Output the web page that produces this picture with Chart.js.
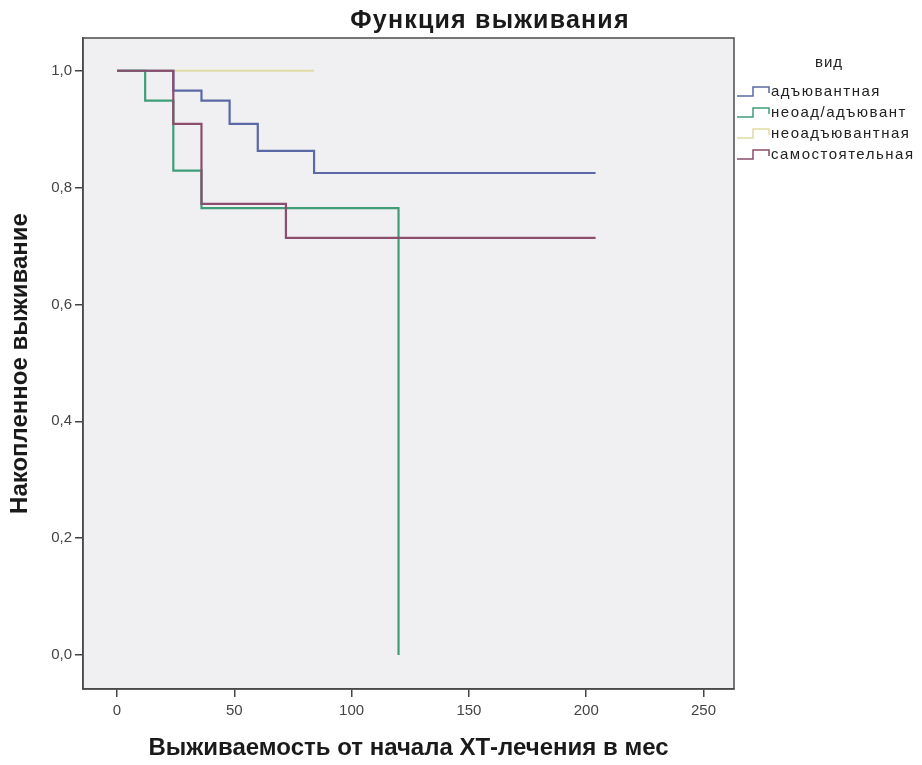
<!DOCTYPE html>
<html>
<head>
<meta charset="utf-8">
<script src="https://cdn.jsdelivr.net/npm/chart.js@4.4.1/dist/chart.umd.min.js"></script>
<style>
  body { margin: 0; background: #fff; }
  canvas { display: block; }
</style>
</head>
<body>
<canvas id="kmChart" width="922" height="765"></canvas>
<script>
// Данные кривых выживания (время в мес, накопленное выживание)
const groupNames = ["адъювантная", "неоад/адъювант", "неоадъювантная", "самостоятельная"];
const adjTime = [0, 24, 36, 48, 60, 84, 204];
const adjSurv = [1.0, 0.966, 0.949, 0.909, 0.863, 0.825, 0.825];
const neoAdjTime = [0, 12, 24, 36, 120];
const neoAdjSurv = [1.0, 0.949, 0.829, 0.765, 0.0];
const neoTime = [0, 84];
const neoSurv = [1.0, 1.0];
const selfTime = [0, 24, 36, 72, 204];
const selfSurv = [1.0, 0.909, 0.772, 0.714, 0.714];
const xTicks = [0, 50, 100, 150, 200, 250];
const yTicks = [0, 0.2, 0.4, 0.6, 0.8, 1.0];

const colors = ["#5a68a6", "#3f9d78", "#e0dba4", "#8a4d6c"];
const FONT = "'Liberation Sans', Arial, sans-serif";

const toPoints = (t, s) => t.map((v, i) => ({ x: v, y: s[i] }));

// фон области построения, рамка, заголовок и легенда
const plotBg = {
  id: "plotBg",
  beforeDraw(chart) {
    const { ctx, chartArea: a } = chart;
    ctx.save();
    ctx.fillStyle = "#f0f0f2";
    ctx.fillRect(a.left, a.top, a.right - a.left, a.bottom - a.top);
    ctx.restore();
  },
  afterDraw(chart) {
    const { ctx, chartArea: a } = chart;
    ctx.save();
    ctx.strokeStyle = "#4a4a4a";
    ctx.lineWidth = 1.5;
    ctx.strokeRect(a.left, a.top, a.right - a.left, a.bottom - a.top);

    // заголовок
    ctx.fillStyle = "#1a1a1a";
    ctx.font = "bold 25px " + FONT;
    ctx.letterSpacing = "1.2px";
    ctx.textAlign = "center";
    ctx.textBaseline = "alphabetic";
    ctx.fillText("Функция выживания", 490, 28);

    // легенда
    ctx.fillStyle = "#222";
    ctx.letterSpacing = "1px";
    ctx.font = "15px " + FONT;
    ctx.fillText("вид", 829, 67);
    ctx.textAlign = "left";
    ctx.textBaseline = "middle";
    ctx.letterSpacing = "1.5px";
    ctx.font = "15px " + FONT;
    const legendY = [92, 113, 134, 155];
    groupNames.forEach((name, i) => {
      const y = legendY[i];
      ctx.strokeStyle = colors[i];
      ctx.lineWidth = 1.5;
      ctx.beginPath();
      ctx.moveTo(737, y + 4);
      ctx.lineTo(753, y + 4);
      ctx.lineTo(753, y - 5);
      ctx.lineTo(769, y - 5);
      ctx.lineTo(769, y + 1);
      ctx.stroke();
      ctx.fillStyle = "#222";
      ctx.fillText(name, 771, y);
    });
    ctx.restore();
  }
};

new Chart(document.getElementById("kmChart"), {
  type: "line",
  data: {
    datasets: [
      { label: groupNames[0], data: toPoints(adjTime, adjSurv), borderColor: colors[0], order: 2 },
      { label: groupNames[1], data: toPoints(neoAdjTime, neoAdjSurv), borderColor: colors[1], order: 1 },
      { label: groupNames[2], data: toPoints(neoTime, neoSurv), borderColor: colors[2], order: 3 },
      { label: groupNames[3], data: toPoints(selfTime, selfSurv), borderColor: colors[3], order: 0 },
    ].map(d => Object.assign(d, { stepped: "before", borderWidth: 2.2, pointRadius: 0, fill: false })),
  },
  options: {
    responsive: false,
    animation: false,
    layout: { padding: { top: 38, right: 188, left: 0, bottom: 0 } },
    plugins: {
      legend: { display: false },
      tooltip: { enabled: false },
    },
    scales: {
      x: {
        type: "linear",
        min: -14.5,
        max: 263,
        afterBuildTicks: s => { s.ticks = xTicks.map(v => ({ value: v })); },
        afterFit: s => { s.height = 76; },
        grid: { drawOnChartArea: false, drawTicks: true, tickLength: 8, color: "#444", lineWidth: 1.5 },
        border: { display: true, color: "#4a4a4a", width: 1.5 },
        ticks: { color: "#444", padding: 5, font: { size: 15, family: FONT } },
        title: {
          display: true,
          text: "Выживаемость от начала ХТ-лечения в мес",
          color: "#1a1a1a",
          font: { size: 24, weight: "bold", family: FONT },
          padding: { top: 0, bottom: 2 },
        },
      },
      y: {
        min: -0.058,
        max: 1.056,
        afterBuildTicks: s => { s.ticks = yTicks.map(v => ({ value: v })); },
        afterFit: s => { s.width = 83; },
        grid: { drawOnChartArea: false, drawTicks: true, tickLength: 8, color: "#444", lineWidth: 1.5 },
        border: { display: true, color: "#4a4a4a", width: 1.5 },
        ticks: {
          color: "#444",
          padding: 3,
          font: { size: 15, family: FONT },
          callback: v => v.toFixed(1).replace(".", ","),
        },
        title: {
          display: true,
          text: "Накопленное выживание",
          color: "#1a1a1a",
          font: { size: 24, weight: "bold", family: FONT },
          padding: { top: 6, bottom: 0 },
        },
      },
    },
  },
  plugins: [plotBg],
});
</script>
</body>
</html>
